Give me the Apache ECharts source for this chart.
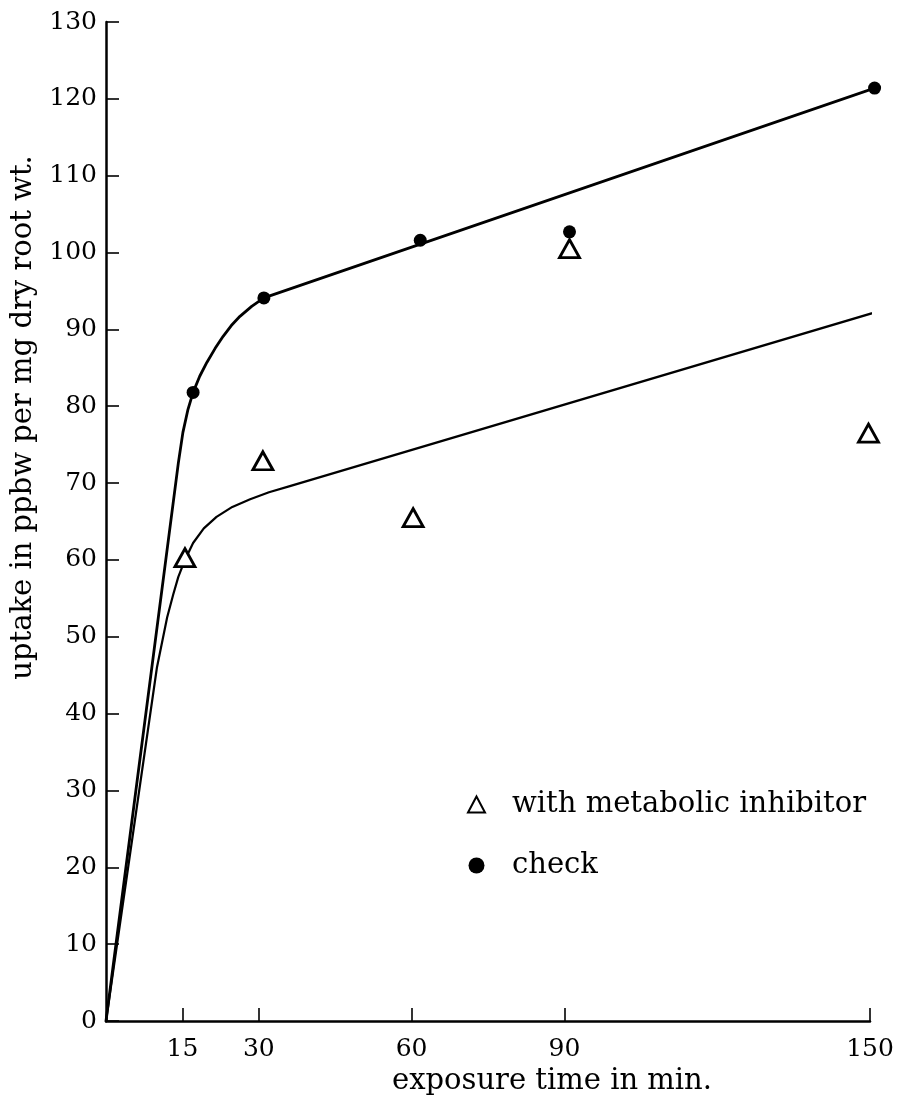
<!DOCTYPE html>
<html>
<head>
<meta charset="utf-8">
<title>Uptake vs exposure time</title>
<script src="https://cdn.jsdelivr.net/npm/echarts@6/dist/echarts.min.js"></script>
<style>
  html, body { margin: 0; padding: 0; background: #ffffff; }
  #chart { width: 905px; height: 1120px; }
</style>
</head>
<body>
<div id="chart"></div>
<script>
// Measured uptake (ppbw per mg dry root wt.) against exposure time (min)
const checkPoints = [[17.1, 81.8], [31.0, 94.1], [61.7, 101.6], [91.0, 102.7], [150.9, 121.4]];
const inhibitorPoints = [[15.5, 60.3], [30.8, 72.9], [60.3, 65.5], [91.0, 100.5], [149.7, 76.5]];

// Hand-drawn fitted curves, traced as polylines
const checkCurve = [[0, 0], [14.2, 72.6], [15.1, 76.6], [16.1, 79.6], [17.1, 81.8], [18.4, 83.9],
                    [19.8, 85.7], [21.4, 87.5], [23.0, 89.1], [24.6, 90.5], [26.3, 91.7],
                    [28.6, 93.0], [31.0, 94.1], [150.9, 121.4]];
const inhibitorCurve = [[0, 0], [10.0, 46.0], [12.0, 52.5], [13.2, 55.5], [14.2, 57.8], [15.5, 60.0],
                        [17.1, 62.2], [19.2, 64.1], [21.7, 65.6], [24.8, 66.9], [28.3, 67.9],
                        [32.0, 68.8], [36.1, 69.6], [157.0, 93.4]];

// Axis ticks
const xTicks = [15, 30, 60, 90, 150];
const yMin = 0, yMax = 130, yStep = 10;

const FONT = 'DejaVu Serif';
const INK = '#000000';

const chart = echarts.init(document.getElementById('chart'), null, { renderer: 'canvas' });

chart.setOption({
  backgroundColor: '#ffffff',
  animation: false,
  grid: { left: 106, right: 35, top: 22, bottom: 99, outerBoundsMode: 'none', containLabel: false },
  legend: {
    orient: 'vertical',
    left: 462,
    top: 785,
    itemWidth: 17,
    itemHeight: 16,
    itemGap: 32,
    textStyle: { fontFamily: FONT, fontSize: 29, color: INK, padding: [0, 0, 0, 22] },
    data: [
      { name: 'with metabolic inhibitor', icon: 'triangle' },
      { name: 'check', icon: 'circle' }
    ]
  },
  xAxis: {
    type: 'value',
    min: 0,
    max: 150,
    name: 'exposure time in min.',
    nameLocation: 'middle',
    nameGap: 40,
    nameTextStyle: { fontFamily: FONT, fontSize: 29, color: INK, padding: [0, 0, 0, 128] },
    axisLine: { show: true, lineStyle: { color: INK, width: 2.5 } },
    axisTick: { show: true, inside: true, length: 13, lineStyle: { color: INK, width: 1.6 }, customValues: xTicks },
    axisLabel: { fontFamily: FONT, fontSize: 25, color: INK, margin: 16, customValues: xTicks },
    splitLine: { show: false }
  },
  yAxis: {
    type: 'value',
    min: yMin,
    max: yMax,
    interval: yStep,
    name: 'uptake in ppbw per mg dry root wt.',
    nameLocation: 'middle',
    nameRotate: 90,
    nameGap: 58,
    nameTextStyle: { fontFamily: FONT, fontSize: 29, color: INK, padding: [0, 0, 0, 208] },
    axisLine: { show: true, lineStyle: { color: INK, width: 2.5 } },
    axisTick: { show: true, inside: true, length: 13, lineStyle: { color: INK, width: 1.6 } },
    axisLabel: { fontFamily: FONT, fontSize: 25, color: INK, margin: 9 },
    splitLine: { show: false }
  },
  series: [
    {
      name: 'check curve',
      type: 'line',
      data: checkCurve,
      showSymbol: false,
      smooth: false,
      clip: false,
      lineStyle: { color: INK, width: 2.8, join: 'round', cap: 'round' },
      silent: true,
      z: 2
    },
    {
      name: 'inhibitor curve',
      type: 'line',
      data: inhibitorCurve,
      showSymbol: false,
      smooth: false,
      clip: false,
      lineStyle: { color: INK, width: 2.2, join: 'round', cap: 'round' },
      silent: true,
      z: 2
    },
    {
      name: 'with metabolic inhibitor',
      type: 'scatter',
      data: inhibitorPoints,
      symbol: 'triangle',
      symbolSize: [20, 18],
      clip: false,
      itemStyle: { color: '#ffffff', borderColor: INK, borderWidth: 2.8, opacity: 1 },
      z: 4
    },
    {
      name: 'check',
      type: 'scatter',
      data: checkPoints,
      symbol: 'circle',
      symbolSize: 13,
      clip: false,
      itemStyle: { color: INK, opacity: 1 },
      z: 5
    }
  ]
});
</script>
</body>
</html>
